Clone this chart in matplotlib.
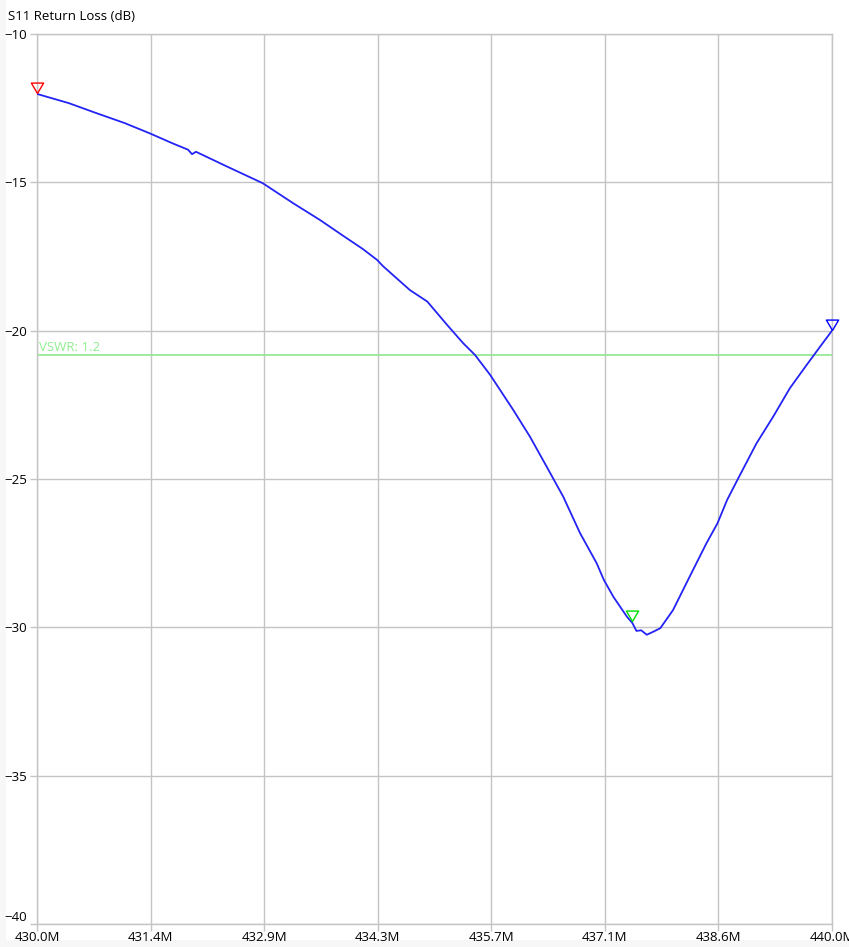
import numpy as np
import matplotlib
matplotlib.use("Agg")
import matplotlib.pyplot as plt
from matplotlib.patches import Rectangle
from matplotlib.path import Path

plt.rcParams['font.family'] = ['Open Sans', 'DejaVu Sans']

# measured S11 trace (MHz, dB)
freq = [430.00, 430.40, 430.75, 431.10, 431.42, 431.70, 431.90, 431.95, 432.00,
        432.40, 432.84, 433.22, 433.56, 433.85, 434.10, 434.28, 434.35, 434.69,
        434.91, 435.16, 435.36, 435.51, 435.70, 435.99, 436.20, 436.41, 436.62,
        436.83, 437.04, 437.13, 437.25, 437.42, 437.49, 437.54, 437.60, 437.67,
        437.75, 437.84, 438.00, 438.21, 438.42, 438.56, 438.68, 438.82, 439.05,
        439.26, 439.47, 439.68, 439.85, 440.00]
s11 = [-12.02, -12.33, -12.67, -13.00, -13.35, -13.68, -13.90, -14.05, -13.97,
       -14.48, -15.03, -15.70, -16.27, -16.80, -17.25, -17.62, -17.82, -18.63,
       -19.02, -19.81, -20.42, -20.82, -21.49, -22.67, -23.57, -24.58, -25.60,
       -26.82, -27.84, -28.40, -28.97, -29.64, -29.86, -30.12, -30.10, -30.25,
       -30.15, -30.03, -29.42, -28.29, -27.17, -26.49, -25.71, -24.98, -23.80,
       -22.90, -21.94, -21.16, -20.54, -20.00]

xticks = [430 + i * 10 / 7 for i in range(8)]
xlabels = ['430.0M', '431.4M', '432.9M', '434.3M', '435.7M', '437.1M', '438.6M', '440.0M']
yticks = [-40, -35, -30, -25, -20, -15, -10]

vswr = 1.2
vswr_rl = 20 * np.log10((vswr - 1) / (vswr + 1))  # about -20.83 dB

# marker positions: (freq, dB, colour)
markers = [(430.00, -12.0, '#ff0000'), (437.49, -29.78, '#00dd00'), (440.00, -19.98, '#0000ff')]

W, H = 849, 947
fig = plt.figure(figsize=(W / 100, H / 100), dpi=100, facecolor='#f7f7f7')
fig.patches.append(Rectangle((6 / W, 7 / H), 1, 1, transform=fig.transFigure,
                             facecolor='white', edgecolor='none', zorder=-5))
ax = fig.add_axes([37 / W, 23 / H, 795 / W, 890 / H])
ax.set_facecolor('white')

ax.plot(freq, s11, color='#2323f5', lw=1.3, zorder=3, solid_joinstyle='round')
ax.axhline(vswr_rl, color='#8ee88e', lw=1.2, zorder=2)
ax.text(430.02, vswr_rl + 0.05, 'VSWR: 1.2', color='#90ee90', fontsize=9.5,
        ha='left', va='bottom')

# triangle marker with tip on the data point
tri = Path([(-1, 1.7), (1, 1.7), (0, 0), (-1, 1.7)],
           [Path.MOVETO, Path.LINETO, Path.LINETO, Path.CLOSEPOLY])
for fx, fy, c in markers:
    ax.plot([fx], [fy], marker=tri, ms=15, mfc='none', mec=c, mew=1.0,
            zorder=4, clip_on=False)

ax.set_xlim(430, 440)
ax.set_ylim(-40, -10)
ax.set_xticks(xticks)
ax.set_xticklabels(xlabels)
ax.set_yticks(yticks)
ax.grid(True, color='#c4c4c4', lw=1)
for s in ax.spines.values():
    s.set_color('#c4c4c4')
    s.set_linewidth(1)
ax.tick_params(axis='both', colors='#c4c4c4', labelcolor='black', labelsize=9.5,
               length=5, width=1)
ax.tick_params(axis='x', pad=0)
ax.tick_params(axis='y', pad=2)
ax.get_yticklabels()[0].set_va('bottom')

fig.text(8 / W, 1 - 16 / H, 'S11 Return Loss (dB)', fontsize=9.5, ha='left', va='center')

fig.savefig('out.png', dpi=100, facecolor=fig.get_facecolor())
